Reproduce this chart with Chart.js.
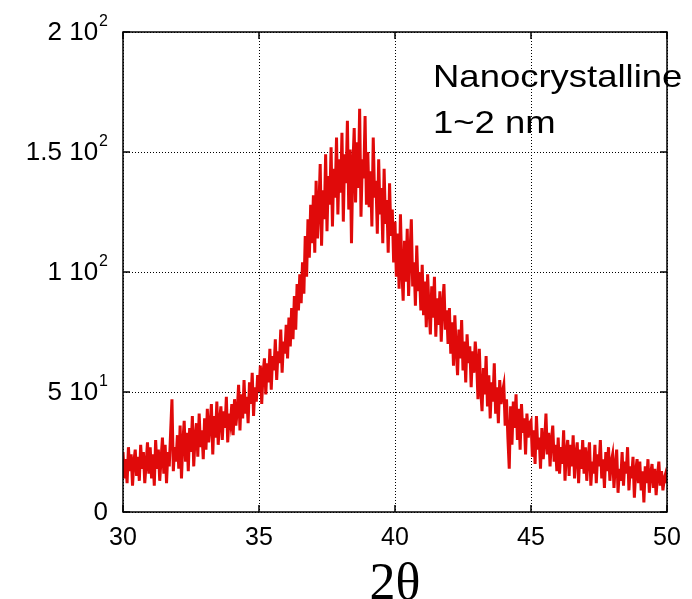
<!DOCTYPE html>
<html>
<head>
<meta charset="utf-8">
<script src="https://cdn.jsdelivr.net/npm/chart.js@4/dist/chart.umd.min.js"></script>
<style>
  html, body { margin: 0; padding: 0; background: #fff; }
  #wrap { width: 692px; height: 599px; }
</style>
</head>
<body>
<div id="wrap"><canvas id="xrd"></canvas></div>
<script>
// 2theta runs 30 -> 50 in steps of 0.05, one array per 5 degrees
const twoThetaStart = 30;
const twoThetaStep = 0.05;

const counts30to35 = [
    25, 14, 22, 12, 27, 17, 24, 11, 21, 26, 15, 23, 13, 28, 18, 25, 12, 20, 29, 16,
    27, 14, 24, 11, 30, 18, 26, 13, 22, 31, 16, 28, 12, 25, 19, 33, 47, 17, 27, 21,
    32, 18, 36, 14, 29, 38, 21, 33, 17, 35, 25, 40, 19, 31, 37, 23, 41, 27, 34, 22,
    39, 26, 43, 29, 36, 45, 24, 40, 31, 46, 28, 38, 44, 30, 42, 35, 48, 29, 41, 37,
    45, 32, 47, 36, 42, 53, 34, 49, 39, 55, 41, 48, 37, 54, 45, 58, 40, 52, 46, 57
];
const counts35to40 = [
    50, 61, 45, 58, 64, 49, 62, 54, 68, 51, 65, 59, 72, 55, 67, 62, 76, 58, 71, 66,
    78, 64, 81, 69, 85, 72, 90, 76, 95, 84, 99, 87, 104, 91, 115, 98, 122, 106, 128, 112,
    132, 108, 138, 114, 126, 145, 111, 134, 122, 149, 117, 140, 128, 152, 119, 143, 131, 156, 124, 147,
    133, 158, 121, 149, 137, 163, 126, 151, 112, 144, 160, 129, 154, 135, 168, 123, 147, 139, 165, 128,
    150, 127, 142, 119, 156, 131, 138, 116, 147, 124, 135, 112, 143, 120, 130, 108, 137, 115, 126, 104
];
const counts40to45 = [
    121, 98, 116, 93, 124, 101, 88, 113, 96, 118, 90, 107, 122, 94, 104, 86, 111, 92, 100, 84,
    103, 82, 96, 77, 99, 85, 74, 94, 81, 98, 73, 89, 78, 92, 71, 86, 95, 76, 84, 70,
    85, 66, 79, 61, 82, 68, 57, 76, 64, 80, 59, 71, 54, 74, 62, 69, 52, 67, 58, 71,
    63, 47, 68, 51, 42, 60, 49, 65, 44, 57, 39, 54, 46, 62, 41, 52, 37, 55, 45, 50,
    53, 36, 47, 31, 18, 44, 28, 46, 35, 49, 30, 43, 26, 45, 33, 39, 24, 41, 31, 37
];
const counts45to50 = [
    38, 23, 34, 20, 40, 26, 31, 18, 35, 22, 29, 41, 24, 33, 19, 30, 36, 21, 28, 17,
    31, 16, 27, 20, 34, 13, 25, 30, 15, 28, 19, 32, 14, 24, 29, 12, 26, 18, 30, 16,
    27, 13, 23, 29, 11, 21, 16, 28, 12, 24, 19, 30, 14, 22, 10, 25, 17, 27, 13, 21,
    24, 10, 20, 26, 8, 18, 13, 25, 11, 21, 16, 27, 9, 19, 14, 23, 6, 17, 22, 12,
    21, 9, 17, 4, 19, 12, 22, 8, 16, 20, 10, 18, 7, 15, 21, 11, 17, 9, 14, 16, 12
];

const yTickValues = [0, 50, 100, 150, 200];
const yTickBase = ['0', '5 10', '1 10', '1.5 10', '2 10'];
const yTickPower = ['', '1', '2', '2', '2'];
const xTickValues = [30, 35, 40, 45, 50];
const noteLines = ['Nanocrystalline', '1~2 nm'];

const allCounts = counts30to35.concat(counts35to40, counts40to45, counts45to50);
const points = allCounts.map((v, i) => ({
    x: +(twoThetaStart + i * twoThetaStep).toFixed(2),
    y: v
}));

const sans = '"Liberation Sans", Arial, sans-serif';

// frame, inward ticks, y labels with exponents and the text note
const frameAndNote = {
    id: 'frameAndNote',
    afterDraw(chart) {
        const {ctx, chartArea: a, scales} = chart;
        ctx.save();
        ctx.strokeStyle = '#000';
        ctx.lineWidth = 1.5;
        ctx.strokeRect(a.left, a.top, a.right - a.left, a.bottom - a.top);
        ctx.beginPath();
        xTickValues.forEach(v => {
            const px = scales.x.getPixelForValue(v);
            ctx.moveTo(px, a.bottom); ctx.lineTo(px, a.bottom - 7);
            ctx.moveTo(px, a.top); ctx.lineTo(px, a.top + 7);
        });
        yTickValues.forEach(v => {
            const py = scales.y.getPixelForValue(v);
            ctx.moveTo(a.left, py); ctx.lineTo(a.left + 7, py);
            ctx.moveTo(a.right, py); ctx.lineTo(a.right - 7, py);
        });
        ctx.stroke();

        ctx.fillStyle = '#000';
        ctx.textBaseline = 'alphabetic';
        const rightEdge = a.left - 15;
        yTickValues.forEach((v, i) => {
            const py = scales.y.getPixelForValue(v);
            let x = rightEdge;
            ctx.textAlign = 'right';
            if (yTickPower[i]) {
                ctx.font = '16px ' + sans;
                ctx.fillText(yTickPower[i], x, py - 6);
                x -= ctx.measureText(yTickPower[i]).width + 1;
            }
            ctx.font = '26px ' + sans;
            ctx.fillText(yTickBase[i], x, py + 8);
        });

        ctx.textAlign = 'left';
        ctx.font = '32px ' + sans;
        ctx.save();
        ctx.translate(a.left + 310, 0);
        ctx.scale(1.14, 1);
        ctx.fillText(noteLines[0], 0, 87);
        ctx.fillText(noteLines[1], 0, 133);
        ctx.restore();
        ctx.restore();
    }
};

new Chart(document.getElementById('xrd'), {
    type: 'line',
    data: {
        datasets: [{
            data: points,
            borderColor: '#e00a0a',
            borderWidth: 3,
            pointRadius: 0,
            tension: 0,
            fill: false
        }]
    },
    options: {
        responsive: true,
        maintainAspectRatio: false,
        animation: false,
        layout: {padding: {top: 32, right: 25, left: 0, bottom: 0}},
        plugins: {legend: {display: false}, tooltip: {enabled: false}},
        scales: {
            x: {
                type: 'linear',
                min: 30,
                max: 50,
                afterBuildTicks: s => { s.ticks = xTickValues.map(v => ({value: v})); },
                afterFit: s => { s.height = 87; },
                grid: {color: '#000', lineWidth: 1, drawTicks: false},
                border: {display: false, dash: [1, 2]},
                ticks: {
                    color: '#000',
                    padding: 11,
                    maxRotation: 0,
                    font: {family: sans, size: 25}
                },
                title: {
                    display: true,
                    text: '2\u03B8',
                    color: '#000',
                    padding: {top: 0, bottom: -12},
                    font: {family: '"Liberation Serif", "Times New Roman", serif', size: 52, lineHeight: 1}
                }
            },
            y: {
                min: 0,
                max: 200,
                afterBuildTicks: s => { s.ticks = yTickValues.map(v => ({value: v})); },
                afterFit: s => { s.width = 123; },
                grid: {color: '#000', lineWidth: 1, drawTicks: false},
                border: {display: false, dash: [1, 2]},
                ticks: {display: false}
            }
        }
    },
    plugins: [frameAndNote]
});
</script>
</body>
</html>
